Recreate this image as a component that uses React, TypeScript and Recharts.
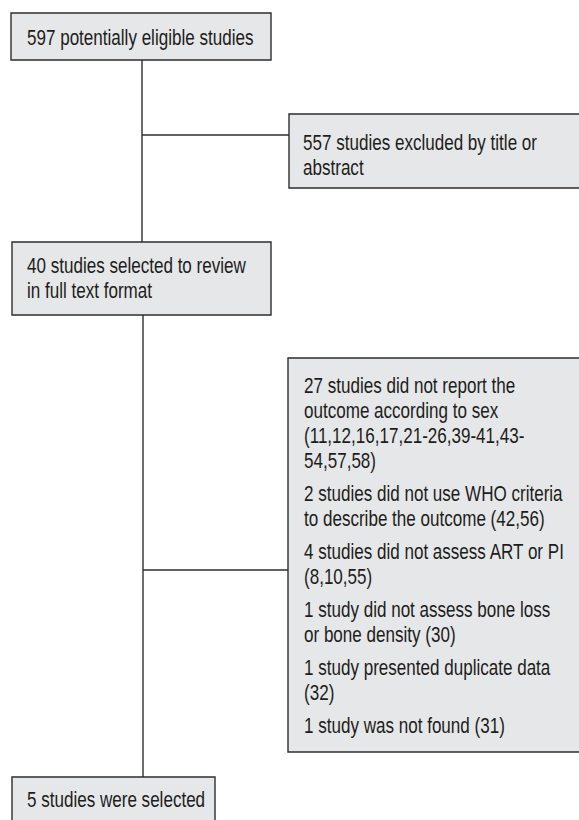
import React from "react";
import { ComposedChart, XAxis, YAxis, ReferenceArea, ReferenceLine } from "recharts";

// ---- content (texts of each box) ----
const box1Lines: string[][] = [["597 potentially eligible studies"]];
const box2Lines: string[][] = [["557 studies excluded by title or", "abstract"]];
const box3Lines: string[][] = [["40 studies selected to review", "in full text format"]];
const box4Lines: string[][] = [
  ["27 studies did not report the", "outcome according to sex", "(11,12,16,17,21-26,39-41,43-", "54,57,58)"],
  ["2 studies did not use WHO criteria", "to describe the outcome (42,56)"],
  ["4 studies did not assess ART or PI", "(8,10,55)"],
  ["1 study did not assess bone loss", "or bone density (30)"],
  ["1 study presented duplicate data", "(32)"],
  ["1 study was not found (31)"],
];
const box5Lines: string[][] = [["5 studies were selected"]];

// ---- layout (in the chart's own coordinate space) ----
const W = 579;
const H = 820;
const FONT = "'Liberation Sans', Arial, sans-serif";
const FONT_SIZE = 22;
const NARROW = 0.775;
const LINE_H = 25;
const PARA_GAP = 8;
const TEXT_COLOR = "#1d1d1b";
const FILL = "#e6e7e8";
const STROKE = "#2e2e2e";

type Box = { x1: number; x2: number; y1: number; y2: number; padX: number; firstBaseline: number; text: string[][] };

const boxes: Box[] = [
  { x1: 11, x2: 271, y1: 13, y2: 60, padX: 16, firstBaseline: 32, text: box1Lines },
  { x1: 289, x2: 620, y1: 114, y2: 188, padX: 14, firstBaseline: 36, text: box2Lines },
  { x1: 12, x2: 271, y1: 242, y2: 315, padX: 15, firstBaseline: 31, text: box3Lines },
  { x1: 288, x2: 620, y1: 358, y2: 752, padX: 16, firstBaseline: 35, text: box4Lines },
  { x1: 12, x2: 215, y1: 777, y2: 860, padX: 15, firstBaseline: 30, text: box5Lines },
];

const connectors = [
  [{ x: 142, y: 60 }, { x: 142, y: 242 }],
  [{ x: 142, y: 135 }, { x: 289, y: 135 }],
  [{ x: 143, y: 315 }, { x: 143, y: 777 }],
  [{ x: 143, y: 570 }, { x: 288, y: 570 }],
];

function makeLabel(b: Box) {
  return (props: any) => {
    const vb = props.viewBox || {};
    const x0 = (vb.x ?? 0) + b.padX;
    let y = (vb.y ?? 0) + b.firstBaseline;
    const nodes: React.ReactNode[] = [];
    b.text.forEach((para, pi) => {
      if (pi > 0) y += PARA_GAP;
      para.forEach((line, li) => {
        nodes.push(
          <text
            key={`${pi}-${li}`}
            x={0}
            y={0}
            transform={`translate(${x0},${y}) scale(${NARROW},1)`}
            fill={TEXT_COLOR}
            fontSize={FONT_SIZE}
            fontFamily={FONT}
          >
            {line}
          </text>
        );
        y += LINE_H;
      });
    });
    return <g>{nodes}</g>;
  };
}

export default function App() {
  return (
    <div style={{ position: "absolute", left: 0, top: 0, width: W, height: H, background: "#fff" }}>
      <ComposedChart width={W} height={H} data={[]} margin={{ top: 0, right: 0, bottom: 0, left: 0 }}>
        <XAxis type="number" dataKey="x" domain={[0, W]} hide allowDataOverflow />
        <YAxis type="number" dataKey="y" domain={[0, H]} reversed hide allowDataOverflow width={0} />
        {connectors.map((seg, i) => (
          <ReferenceLine key={`c${i}`} segment={seg} stroke={STROKE} strokeWidth={1.4} ifOverflow="visible" />
        ))}
        {boxes.map((b, i) => (
          <ReferenceArea
            key={`b${i}`}
            x1={b.x1}
            x2={b.x2}
            y1={b.y1}
            y2={b.y2}
            fill={FILL}
            fillOpacity={1}
            stroke={STROKE}
            strokeWidth={1.4}
            ifOverflow="visible"
            label={{ content: makeLabel(b) }}
          />
        ))}
      </ComposedChart>
    </div>
  );
}
